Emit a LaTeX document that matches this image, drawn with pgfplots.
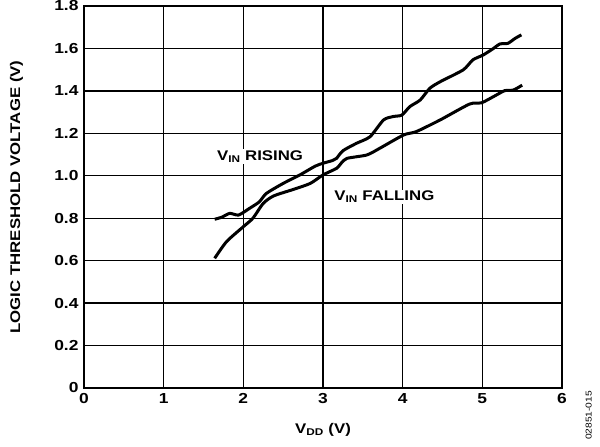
\documentclass[border=0pt]{standalone}
\usepackage{fontspec}
\setmainfont{Liberation Sans}[FakeStretch=1.2]
\usepackage{pgfplots}
\pgfplotsset{compat=1.18}

\begin{document}
\begin{tikzpicture}
\path[use as bounding box] (-84bp,-59bp) rectangle (516bp,388bp);
\begin{axis}[
    at={(0,0)}, anchor=origin,
    scale only axis,
    width=478bp, height=382bp,
    xmin=0, xmax=6, ymin=0, ymax=1.8,
    xtick={0,1,...,6},
    ytick={0,0.2,...,1.8},
    yticklabel style={/pgf/number format/fixed, /pgf/number format/fixed zerofill,
        /pgf/number format/precision=1},
    yticklabel={\ifdim\tick pt=0pt 0\else\pgfmathprintnumber{\tick}\fi},
    /pgf/number format/assume math mode=true,
    tick label style={font=\fontsize{14.5bp}{16bp}\selectfont\bfseries},
    label style={font=\fontsize{14bp}{16bp}\selectfont\bfseries},
    major tick length=0pt,
    grid=major,
    major grid style={black, line width=1.4bp},
    axis line style={black, line width=2bp},
    xlabel={V\textsubscript{DD} (V)},
    ylabel={LOGIC THRESHOLD VOLTAGE (V)},
    xlabel style={at={(axis description cs:0.5,-0.11)}, anchor=center},
    ylabel style={at={(axis description cs:-0.141,0.5)}, anchor=center},
    xticklabel style={yshift=-2bp},
    yticklabel style={xshift=-2bp},
    clip=false,
]
% V_IN rising
\addplot[black, line width=3bp, smooth, tension=0.4] coordinates {
    (1.64,0.795) (1.73,0.805) (1.83,0.823) (1.94,0.815) (2.08,0.847)
    (2.20,0.877) (2.29,0.917) (2.50,0.964) (2.71,1.004) (2.90,1.045)
    (3.00,1.059) (3.12,1.072) (3.17,1.082) (3.25,1.118) (3.42,1.153)
    (3.59,1.184) (3.76,1.263) (3.88,1.279) (3.99,1.286) (4.09,1.326)
    (4.22,1.357) (4.34,1.412) (4.47,1.443) (4.76,1.499) (4.88,1.546)
    (5.01,1.569) (5.14,1.600) (5.22,1.621) (5.32,1.624) (5.41,1.647)
    (5.49,1.664)
};
% V_IN falling
\addplot[black, line width=3bp, smooth, tension=0.4] coordinates {
    (1.64,0.611) (1.79,0.690) (2.00,0.760) (2.12,0.800) (2.25,0.870)
    (2.38,0.905) (2.63,0.936) (2.84,0.964) (3.00,1.004) (3.17,1.035)
    (3.23,1.060) (3.30,1.082) (3.55,1.098) (3.71,1.129) (4.01,1.192)
    (4.17,1.208) (4.47,1.263) (4.84,1.338) (4.99,1.344) (5.14,1.373)
    (5.28,1.401) (5.39,1.404) (5.50,1.427)
};
\node[font=\fontsize{14bp}{16bp}\selectfont\bfseries, fill=white, inner sep=1.5bp]
    at (axis cs:2.21,1.09) {V\textsubscript{IN} RISING};
\node[font=\fontsize{14bp}{16bp}\selectfont\bfseries, fill=white, inner sep=1.5bp]
    at (axis cs:3.77,0.90) {V\textsubscript{IN} FALLING};
\node[rotate=90, font=\fontsize{8.5bp}{10bp}\selectfont]
    at (rel axis cs:1.056,-0.072) {02851-015};
\end{axis}
\end{tikzpicture}
\end{document}
